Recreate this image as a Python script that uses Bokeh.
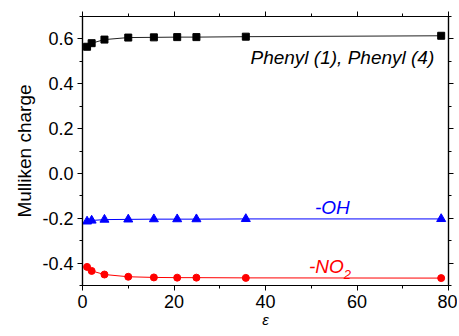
from bokeh.plotting import figure
from bokeh.models import Range1d, LinearAxis, FixedTicker, Label, CustomJSTickFormatter
from bokeh.embed import file_html
from bokeh.resources import INLINE

# data
eps = [1.0, 2.0, 4.8, 10.0, 15.6, 20.7, 24.9, 35.7, 78.4]
phenyl = [0.565, 0.581, 0.597, 0.606, 0.607, 0.608, 0.608, 0.610, 0.614]
oh = [-0.214, -0.210, -0.206, -0.205, -0.204, -0.204, -0.204, -0.203, -0.203]
no2 = [-0.417, -0.435, -0.451, -0.461, -0.464, -0.465, -0.465, -0.466, -0.467]

x_ticks = [0, 20, 40, 60, 80]
y_ticks = [-0.4, -0.2, 0.0, 0.2, 0.4, 0.6]
x_minor = [10, 30, 50, 70]
y_minor = [-0.5, -0.3, -0.1, 0.1, 0.3, 0.5, 0.7]

FONT = "Liberation Sans"

p = figure(width=457, height=334, x_range=Range1d(0, 80), y_range=Range1d(-0.5, 0.7),
           output_backend="svg", toolbar_location=None,
           min_border_left=82, min_border_right=9, min_border_top=16, min_border_bottom=49)
p.xgrid.visible = False
p.ygrid.visible = False
p.outline_line_color = "black"
p.outline_line_width = 1.2

def style(ax, ticks, minor, labels=True):
    ax.ticker = FixedTicker(ticks=ticks, minor_ticks=minor)
    ax.major_tick_out = 5
    ax.major_tick_in = 0
    ax.minor_tick_out = 3
    ax.minor_tick_in = 0
    ax.axis_line_color = "black"
    ax.axis_line_width = 1.2
    ax.major_tick_line_color = "black"
    ax.minor_tick_line_color = "black"
    if labels:
        ax.major_label_text_font = FONT
        ax.major_label_text_font_size = "18px"
        ax.major_label_text_color = "black"
        ax.major_label_standoff = 4
    else:
        ax.formatter = CustomJSTickFormatter(code="return ''")
        ax.major_label_text_font_size = "2px"
        ax.major_label_standoff = 0

style(p.xaxis[0], x_ticks, x_minor)
style(p.yaxis[0], y_ticks, y_minor)
p.xaxis[0].major_label_overrides = {0: "0", 20: "20", 40: "40", 60: "60", 80: "80"}
p.yaxis[0].major_label_overrides = {-0.4: "-0.4", -0.2: "-0.2", 0.0: "0.0", 0.2: "0.2", 0.4: "0.4", 0.6: "0.6"}

p.yaxis[0].axis_label = "Mulliken charge"
p.yaxis[0].axis_label_text_font = FONT
p.yaxis[0].axis_label_text_font_size = "19px"
p.yaxis[0].axis_label_text_font_style = "normal"
p.yaxis[0].axis_label_text_color = "black"
p.yaxis[0].axis_label_standoff = 4

p.xaxis[0].axis_label = "ε"
p.xaxis[0].axis_label_text_font = FONT
p.xaxis[0].axis_label_text_font_size = "15px"
p.xaxis[0].axis_label_text_font_style = "italic"
p.xaxis[0].axis_label_text_color = "black"
p.xaxis[0].axis_label_standoff = 0

top = LinearAxis()
style(top, x_ticks, x_minor, labels=False)
p.add_layout(top, "above")
right = LinearAxis()
style(right, y_ticks, y_minor, labels=False)
p.add_layout(right, "right")

p.line(eps, phenyl, line_color="#222222", line_width=1)
p.scatter(eps, phenyl, marker="square", size=7, fill_color="black", line_color="black")
p.line(eps, oh, line_color="blue", line_width=1)
p.scatter(eps, oh, marker="triangle", size=9, fill_color="blue", line_color="blue")
p.line(eps, no2, line_color="red", line_width=1)
p.scatter(eps, no2, marker="circle", size=7, fill_color="red", line_color="red")

p.add_layout(Label(x=56.8, y=0.519, text="Phenyl (1), Phenyl (4)", text_font=FONT,
                   text_font_size="19px", text_font_style="italic", text_color="black",
                   text_align="center", text_baseline="middle"))
p.add_layout(Label(x=54.6, y=-0.152, text="-OH", text_font=FONT,
                   text_font_size="19px", text_font_style="italic", text_color="blue",
                   text_align="center", text_baseline="middle"))
p.add_layout(Label(x=57.1, y=-0.417, text="-NO", text_font=FONT,
                   text_font_size="19px", text_font_style="italic", text_color="red",
                   text_align="right", text_baseline="middle"))
p.add_layout(Label(x=57.1, y=-0.452, text="2", text_font=FONT,
                   text_font_size="13px", text_font_style="italic", text_color="red",
                   text_align="left", text_baseline="middle"))

open("out.html", "w").write(file_html(p, INLINE))
